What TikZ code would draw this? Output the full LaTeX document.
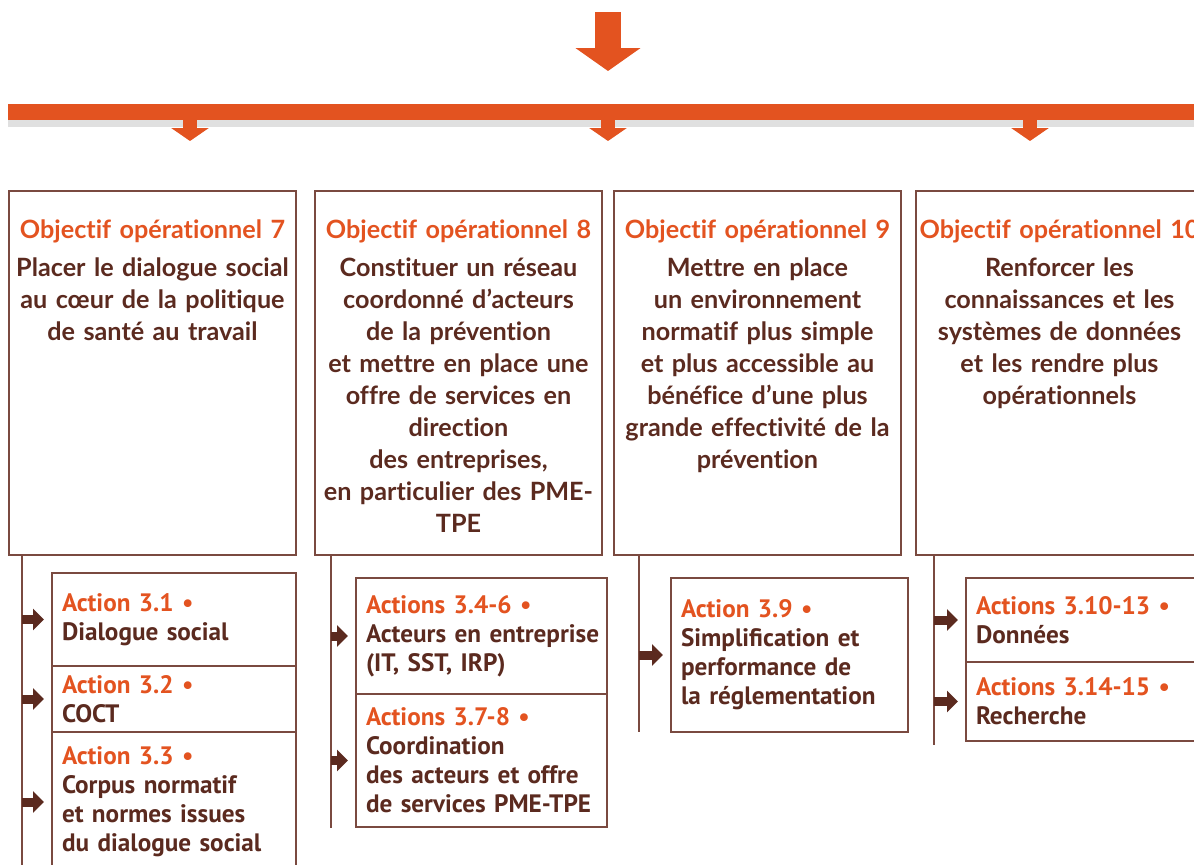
\documentclass[tikz,border=0pt]{standalone}
\usepackage{fontspec}
\setmainfont{Lato}[Ligatures=NoCommon]
\newfontfamily\actfont{PT Sans}
\usetikzlibrary{positioning}
\usetikzlibrary{arrows.meta,shadows}
\definecolor{orangeobj}{HTML}{E35320}
\definecolor{brownobj}{HTML}{5B2A1F}
\definecolor{brownline}{HTML}{7A4A40}
\newcommand{\acttitle}[1]{\textcolor{orangeobj}{#1 \textbullet}}
\newcommand{\objtitle}[1]{\textcolor{orangeobj}{#1}\\[3pt]}

\tikzset{
  objbox/.style={draw=brownline, line width=0.9pt, minimum width=143.5pt, minimum height=182pt, anchor=north west, inner sep=0pt, outer sep=0pt},
  objtext/.style={text width=143pt, align=center, inner sep=0pt, font=\bfseries\fontsize{12.6}{16}\selectfont, text=brownobj},
  actbox/.style={draw=brownline, line width=0.9pt, anchor=north west, inner xsep=5pt, inner ysep=0pt, outer sep=0pt, align=left, font=\actfont\bfseries\fontsize{12.6}{14.5}\selectfont, text=brownobj},
  branch/.style={draw=brownline, line width=0.9pt},
  pointer/.style={draw=brownobj, line width=4.5pt, -{Triangle[length=5.5pt, width=10.5pt]}, shorten >=4pt},
  bigarrow/.style={draw=orangeobj, line width=13pt, -{Triangle[length=11.5pt, width=32pt]}, shorten >=16.5pt},
  smallarrow/.style={draw=orangeobj, line width=7pt, -{Triangle[length=6.5pt, width=18.5pt]}}
}

\begin{document}
\begin{tikzpicture}[x=0.5pt, y=-0.5pt, node distance=0pt]
    \clip (0,0) rectangle (1194,864);

    \node [fill=orangeobj, minimum width=596pt, minimum height=8pt, anchor=north west, inner sep=0pt,
           drop shadow={shadow xshift=0pt, shadow yshift=-3.5pt, opacity=0.12, fill=black}] (bar) at (8,104) {};
    \coordinate (top) at (608,12);
    \coordinate (d1) at (190,141);
    \coordinate (d2) at (608,141);
    \coordinate (d3) at (1030,141);
    \draw [bigarrow] (top) -- (bar.north -| top);
    \draw [smallarrow] (bar.center -| d1) -- (d1);
    \draw [smallarrow] (bar.center -| d2) -- (d2);
    \draw [smallarrow] (bar.center -| d3) -- (d3);

    \node [objbox] (o7) at (9,191) {};
    \node [objbox] (o8) at (315,191) {};
    \node [objbox] (o9) at (614,191) {};
    \node [objbox] (o10) at (916,191) {};
    \node [objtext, below=14pt of o7.north] (o7t) {\objtitle{Objectif opérationnel 7}Placer le dialogue social\\au cœur de la politique\\de santé au travail};
    \node [objtext, below=14pt of o8.north] (o8t) {\objtitle{Objectif opérationnel 8}Constituer un réseau\\coordonné d’acteurs\\de la prévention\\et mettre en place une\\offre de services en\\direction\\des entreprises,\\en particulier des PME-\\TPE};
    \node [objtext, below=14pt of o9.north] (o9t) {\objtitle{Objectif opérationnel 9}Mettre en place\\un environnement\\normatif plus simple\\et plus accessible au\\bénéfice d’une plus\\grande effectivité de la\\prévention};
    \node [objtext, below=14pt of o10.north] (o10t) {\objtitle{\mbox{Objectif opérationnel 10}}Renforcer les\\connaissances et les\\systèmes de données\\et les rendre plus\\opérationnels};

    \node [actbox, text width=112pt, minimum height=46.5pt] (a31) at (52,573) {\acttitle{Action 3.1}\\Dialogue social};
    \node [actbox, text width=112pt, minimum height=33pt, below=of a31.south west, anchor=north west] (a32) {\acttitle{Action 3.2}\\COCT};
    \node [actbox, text width=112pt, minimum height=70pt, below=of a32.south west, anchor=north west] (a33) {\acttitle{Action 3.3}\\Corpus normatif\\et normes issues\\du dialogue social};
    \node [actbox, text width=115.5pt, minimum height=58pt] (a46) at (356,578) {\acttitle{Actions 3.4-6}\\\mbox{Acteurs en entreprise}\\(IT, SST, IRP)};
    \node [actbox, text width=115.5pt, minimum height=66.5pt, below=of a46.south west, anchor=north west] (a78) {\acttitle{Actions 3.7-8}\\Coordination\\des acteurs et offre\\\mbox{de services PME-TPE}};
    \node [actbox, text width=108.5pt, minimum height=77pt] (a9) at (671,578) {\acttitle{Action 3.9}\\Simplification et\\performance de\\la réglementation};
    \node [actbox, text width=130pt, minimum height=42pt] (a1013) at (966,578) {\acttitle{Actions 3.10-13}\\Données};
    \node [actbox, text width=130pt, minimum height=39.5pt, below=of a1013.south west, anchor=north west] (a1415) {\acttitle{Actions 3.14-15}\\Recherche};

    \coordinate (l7) at (22,555);
    \coordinate (l7e) at (22,870);
    \coordinate (l8) at (331,555);
    \coordinate (l8e) at (331,828);
    \coordinate (l9) at (639,555);
    \coordinate (l9e) at (639,732);
    \coordinate (l10) at (934,555);
    \coordinate (l10e) at (934,745);
    \draw [branch] (l7) -- (l7e);
    \draw [branch] (l8) -- (l8e);
    \draw [branch] (l9) -- (l9e);
    \draw [branch] (l10) -- (l10e);

    \draw [pointer] (a31.west -| l7) -- (a31.west);
    \draw [pointer] (a32.west -| l7) -- (a32.west);
    \draw [pointer] (a33.west -| l7) -- (a33.west);
    \draw [pointer] (a46.west -| l8) -- (a46.west);
    \draw [pointer] (a78.west -| l8) -- (a78.west);
    \draw [pointer] (a9.west -| l9) -- (a9.west);
    \draw [pointer] (a1013.west -| l10) -- (a1013.west);
    \draw [pointer] (a1415.west -| l10) -- (a1415.west);
\end{tikzpicture}
\end{document}
